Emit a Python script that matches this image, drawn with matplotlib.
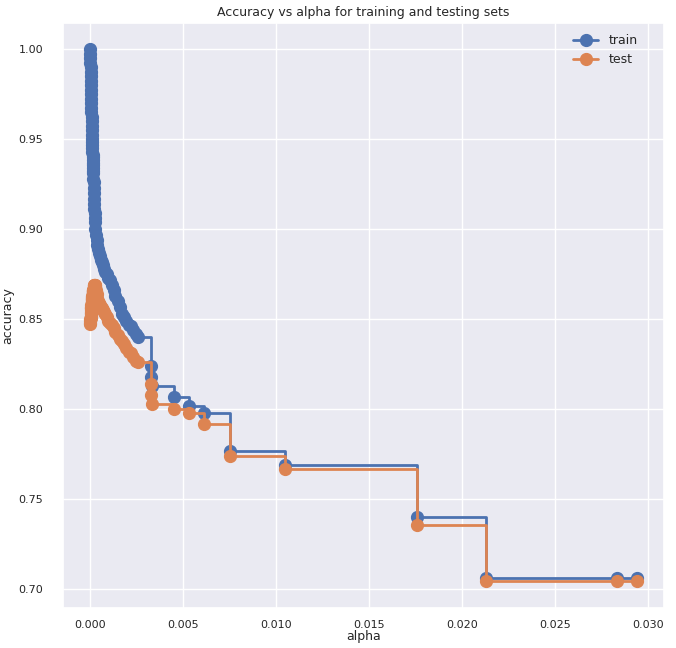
import matplotlib
matplotlib.use("Agg")
import matplotlib.pyplot as plt
import seaborn as sns

sns.set_theme(style="darkgrid", palette="deep")

# ccp alphas shared by both curves
ccp_alphas = [0.0, 0.000005, 0.00001, 0.000015, 0.00002, 0.000025, 0.00003, 0.000035,
              0.00004, 0.000045, 0.00005, 0.000055, 0.00006, 0.000065, 0.00007, 0.000075,
              0.00008, 0.000085, 0.00009, 0.000095, 0.0001, 0.000105, 0.00011, 0.000115,
              0.00012, 0.000125, 0.00013, 0.000135, 0.00014, 0.000145, 0.00015, 0.000155,
              0.00016, 0.00017, 0.00018, 0.00019, 0.0002, 0.00021, 0.00022, 0.00023,
              0.00024, 0.00025, 0.00026, 0.00028, 0.00031, 0.00035,
              0.00039, 0.00043, 0.00048, 0.00053, 0.00058, 0.00063, 0.00069, 0.00075,
              0.00082, 0.0009, 0.00098, 0.00107, 0.00116, 0.00126, 0.00136, 0.00147,
              0.00158, 0.0017, 0.00182, 0.00195, 0.00208, 0.0022, 0.00232, 0.00245,
              0.00257, 0.00326, 0.00328, 0.0033, 0.00449, 0.0053, 0.0061, 0.0075,
              0.01045, 0.0176, 0.02129, 0.02831, 0.02938]

train_scores = [1.0, 0.9975, 0.995, 0.9925, 0.99, 0.9875, 0.985, 0.9825,
                0.98, 0.9775, 0.975, 0.9725, 0.97, 0.9675, 0.965, 0.9625,
                0.96, 0.9575, 0.955, 0.9525, 0.95, 0.9485, 0.947, 0.945,
                0.943, 0.9415, 0.940, 0.9385, 0.937, 0.9355, 0.934, 0.9325,
                0.931, 0.928, 0.926, 0.923, 0.92, 0.917, 0.914, 0.9115,
                0.909, 0.9065, 0.904, 0.90, 0.897, 0.894,
                0.891, 0.889, 0.887, 0.885, 0.883, 0.882, 0.880, 0.878,
                0.876, 0.875, 0.873, 0.872, 0.869, 0.866, 0.863, 0.860,
                0.857, 0.853, 0.851, 0.849, 0.847, 0.846, 0.844, 0.842,
                0.840, 0.824, 0.818, 0.813, 0.807, 0.802, 0.798, 0.777,
                0.769, 0.740, 0.706, 0.706, 0.706]

test_scores = [0.8475, 0.848, 0.849, 0.850, 0.8505, 0.851, 0.852, 0.853,
               0.8535, 0.854, 0.855, 0.856, 0.8565, 0.857, 0.858, 0.8585,
               0.859, 0.8595, 0.860, 0.8605, 0.861, 0.8615, 0.862, 0.8625,
               0.863, 0.8635, 0.864, 0.8645, 0.865, 0.8652, 0.8655, 0.8658,
               0.866, 0.8665, 0.867, 0.8675, 0.868, 0.8685, 0.869, 0.869,
               0.869, 0.8688, 0.8685, 0.868, 0.866, 0.864,
               0.862, 0.860, 0.859, 0.858, 0.857, 0.856, 0.855, 0.854,
               0.853, 0.851, 0.849, 0.848, 0.847, 0.845, 0.843, 0.841,
               0.839, 0.838, 0.836, 0.834, 0.832, 0.831, 0.829, 0.827,
               0.8265, 0.814, 0.808, 0.803, 0.800, 0.798, 0.792, 0.774,
               0.767, 0.7354, 0.7044, 0.7044, 0.7044]

fig, ax = plt.subplots(figsize=(6.76, 6.48), dpi=100)
fig.subplots_adjust(left=0.093, right=0.982, top=0.965, bottom=0.062)

ax.plot(ccp_alphas, train_scores, marker="o", markersize=8.5, linewidth=2,
        label="train", drawstyle="steps-post")
ax.plot(ccp_alphas, test_scores, marker="o", markersize=8.5, linewidth=2,
        label="test", drawstyle="steps-post")

ax.set_title("Accuracy vs alpha for training and testing sets", fontsize=9, pad=5)
ax.set_xlabel("alpha", fontsize=9, labelpad=0)
ax.set_ylabel("accuracy", fontsize=9, labelpad=3)
ax.tick_params(axis="x", labelsize=8, pad=3)
ax.tick_params(axis="y", labelsize=8, pad=8)
ax.legend(loc="upper right", fontsize=9, frameon=False, bbox_to_anchor=(0.975, 1.0))

fig.savefig("out.png")
plt.close(fig)
